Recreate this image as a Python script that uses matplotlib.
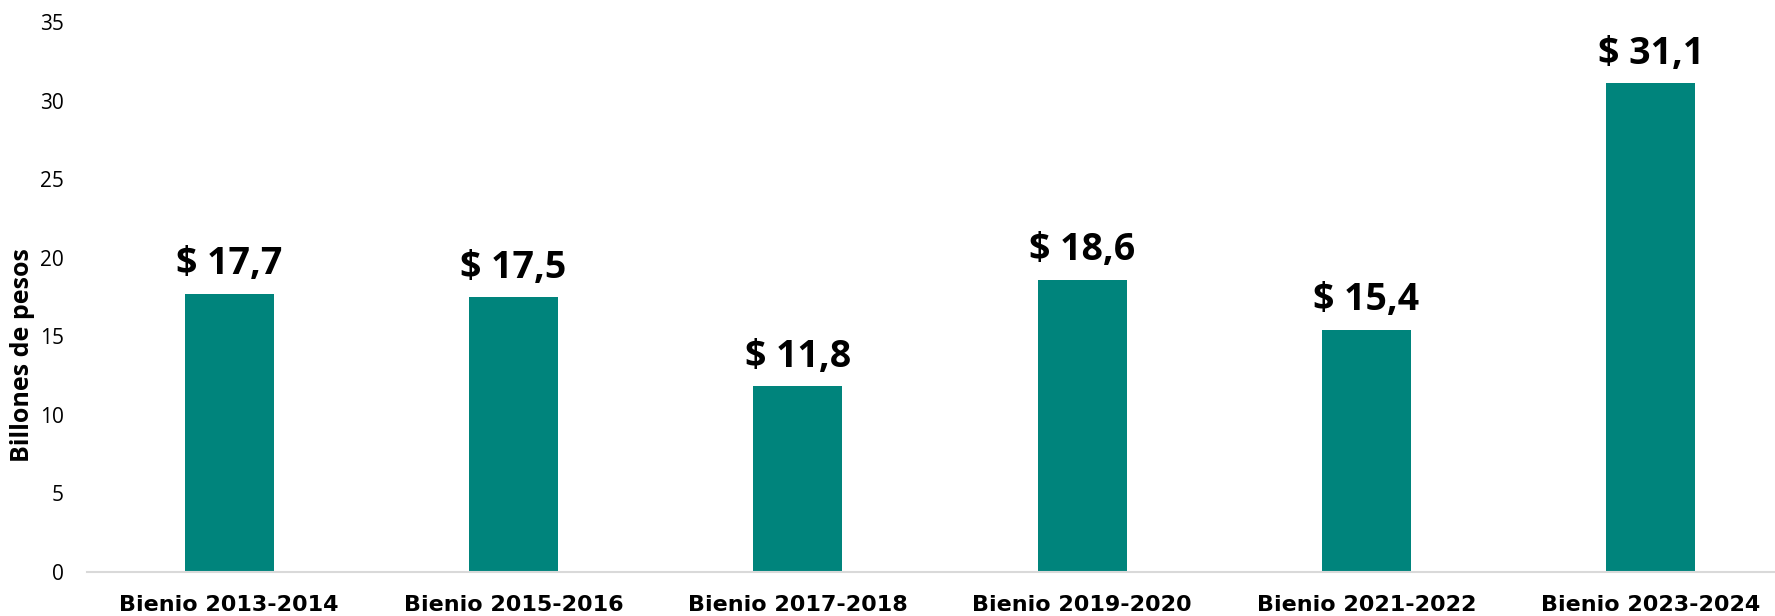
import matplotlib.pyplot as plt

# Montos por bienio (billones de pesos)
bienios = ['Bienio 2013-2014', 'Bienio 2015-2016', 'Bienio 2017-2018',
           'Bienio 2019-2020', 'Bienio 2021-2022', 'Bienio 2023-2024']
montos = [17.7, 17.5, 11.8, 18.6, 15.4, 31.1]
yticks = [0, 5, 10, 15, 20, 25, 30, 35]

teal = '#00847c'

fig = plt.figure(figsize=(17.75, 6.16), dpi=100)
ax = fig.add_axes([0.049, 0.0719, 0.9611, 0.892])

x = range(len(bienios))
ax.bar(x, montos, width=0.313, color=teal, zorder=2)

for xi, v in zip(x, montos):
    etiqueta = '$ ' + f'{v:.1f}'.replace('.', ',')
    ax.annotate(etiqueta, (xi, v), xytext=(0, 14), textcoords='offset points',
                ha='center', va='baseline', fontsize=27, fontweight='bold',
                family='Open Sans', color='black')

ax.set_xlim(-0.5, len(bienios) - 0.5)
ax.set_ylim(0, 35)
ax.set_yticks(yticks)
ax.set_yticklabels([str(t) for t in yticks], family='Open Sans', fontsize=15)
ax.set_xticks(list(x))
ax.set_xticklabels(bienios, family='DejaVu Sans', fontsize=16, fontweight='bold')
ax.tick_params(axis='y', length=0, pad=16.5)
ax.tick_params(axis='x', length=0, pad=17)

for side in ['top', 'right', 'left']:
    ax.spines[side].set_visible(False)
ax.spines['bottom'].set_color('#d9d9d9')
ax.spines['bottom'].set_linewidth(1.5)

fig.text(0.0125, 0.424, 'Billones de pesos', rotation=90, ha='center', va='center',
         family='Open Sans', fontsize=18, fontweight='bold')

fig.savefig('out.png', dpi=100)
